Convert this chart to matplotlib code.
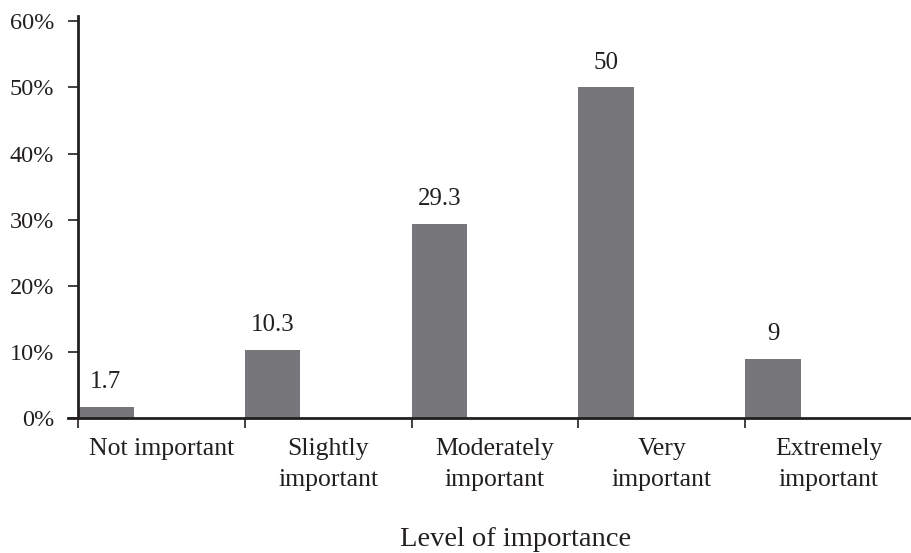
import matplotlib
matplotlib.use("Agg")
import matplotlib.pyplot as plt
from matplotlib.ticker import FuncFormatter

categories = ["Not important", "Slightly\nimportant", "Moderately\nimportant",
              "Very\nimportant", "Extremely\nimportant"]
values = [1.7, 10.3, 29.3, 50, 9]
value_labels = ["1.7", "10.3", "29.3", "50", "9"]
y_ticks = [0, 10, 20, 30, 40, 50, 60]

plt.rcParams["font.family"] = ["Liberation Serif", "DejaVu Serif"]
ink = "#231f20"
bar_color = "#77777b"

fig = plt.figure(figsize=(9.12, 5.53), dpi=100)
ax = fig.add_axes([0.0855, 0.2441, 0.9145, 0.7270])

n = len(categories)
bar_w = 1 / 3
xs = list(range(n))
ax.bar(xs, values, width=bar_w, align="edge", color=bar_color, linewidth=0, zorder=2)

for x, v, lab in zip(xs, values, value_labels):
    ax.annotate(lab, (x + bar_w / 2, v), xytext=(0, 10), textcoords="offset points",
                ha="center", va="bottom", fontsize=18, color=ink)

ax.set_xlim(0, (912 - 78) / 168.0)
ax.set_ylim(0, 60.8)

# category boundaries carry the tick marks, names sit centred in each slot
ax.set_xticks(range(n + 1))
ax.set_xticklabels([])
ax.tick_params(axis="x", direction="out", length=7, width=1.2, color=ink)
for x, name in zip(xs, categories):
    ax.text(x + 0.5, -0.05, name, transform=ax.get_xaxis_transform(),
            ha="center", va="top", fontsize=18.5, color=ink, linespacing=1.5)

ax.set_yticks(y_ticks)
ax.yaxis.set_major_formatter(FuncFormatter(lambda v, p: f"{v:.0f}%"))
ax.tick_params(axis="y", direction="out", length=7, width=1.2, color=ink,
               labelsize=17.5, labelcolor=ink, pad=10)

for s in ("top", "right"):
    ax.spines[s].set_visible(False)
for s in ("left", "bottom"):
    ax.spines[s].set_color(ink)
    ax.spines[s].set_linewidth(2)
ax.spines["bottom"].set_bounds(-0.06, 5)

ax.text(0.525, -0.319, "Level of importance", transform=ax.transAxes,
        ha="center", va="baseline", fontsize=20.5, color=ink)

fig.savefig("out.png", dpi=100)
